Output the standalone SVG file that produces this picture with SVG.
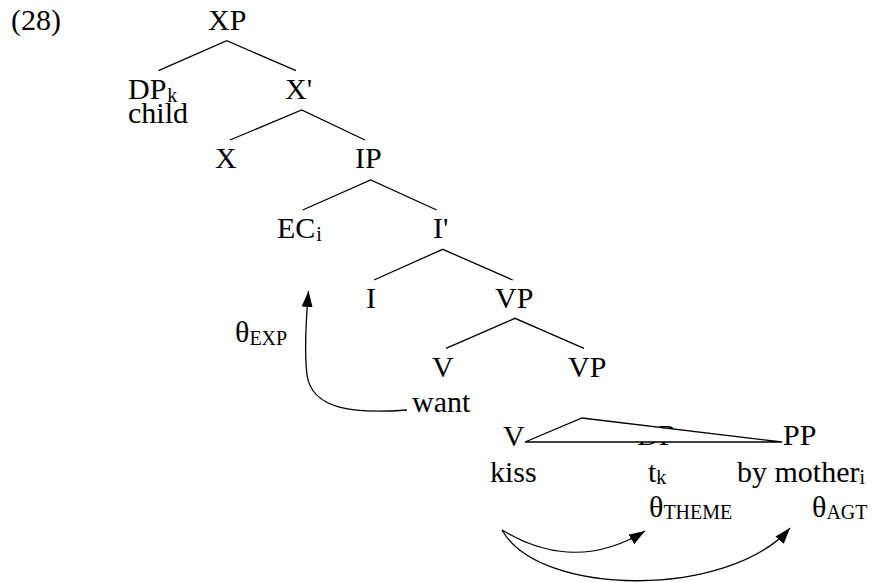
<svg xmlns="http://www.w3.org/2000/svg" width="874" height="583" viewBox="0 0 874 583" font-family="Liberation Serif, Times New Roman, Times, DejaVu Serif, serif">
<style>
text{font-family:'Liberation Serif','Times New Roman',Times,'DejaVu Serif',serif;font-size:30px;fill:#000}
.sub{font-size:20px}
.e{stroke:#000;stroke-width:1.3;fill:none}
.roof{stroke:#000;stroke-width:1.3;fill:#fff}
</style>
<defs>
<marker id="ah" markerUnits="userSpaceOnUse" markerWidth="16" markerHeight="11" refX="16" refY="5.5" orient="auto">
<path d="M0,0 L16,5.5 L0,11 z" fill="#000"/>
</marker>
</defs>
<rect width="874" height="583" fill="#fff"/>
<text id="label" x="11" y="30">(28)</text>
<g id="n-XP"><text x="208" y="30">XP</text></g>
<g id="n-DPk"><text x="128" y="99">DP<tspan class="sub" dx="1" dy="3">k</tspan></text><text x="128" y="123">child</text></g>
<g id="n-Xbar"><text x="285" y="99">X'</text></g>
<g id="n-X"><text x="215" y="168">X</text></g>
<g id="n-IP"><text x="355" y="168">IP</text></g>
<g id="n-ECi"><text x="277" y="238">EC<tspan class="sub" dx="1" dy="3">i</tspan></text></g>
<g id="n-Ibar"><text x="433" y="238">I'</text></g>
<g id="n-I"><text x="366" y="308">I</text></g>
<g id="n-VP1"><text x="495" y="308">VP</text></g>
<g id="n-V1"><text x="432" y="377">V</text><text x="412" y="412">want</text></g>
<g id="n-VP2"><text x="568" y="377">VP</text></g>
<g id="n-thetaEXP"><text x="235" y="342">θ<tspan class="sub" dy="3">EXP</tspan></text></g>
<g id="n-V2"><text x="503" y="446">V</text><text x="490" y="482">kiss</text></g>
<g id="n-DP"><text x="637" y="445">DP</text><text x="648" y="482">t<tspan class="sub" dy="2">k</tspan></text><text x="649" y="517">θ<tspan class="sub" dy="2">THEME</tspan></text></g>
<g id="n-PP"><text x="783" y="445">PP</text><text x="737" y="482">by mother<tspan class="sub" dy="2">i</tspan></text><text x="812" y="517">θ<tspan class="sub" dy="2">AGT</tspan></text></g>
<g id="connectors">
<path class="e" d="M158.5,70.7 L226.7,40.7 L296,70.7"/>
<path class="e" d="M230,140 L301.7,110 L365,140"/>
<path class="e" d="M302.7,210 L370.7,180 L436.7,210"/>
<path class="e" d="M374,280 L442.7,249.3 L512.7,280"/>
<path class="e" d="M446,348.3 L515,318.3 L584,348.3"/>
<path class="roof" d="M525,442 L582,418 L782,442 Z"/>
<path class="e" marker-end="url(#ah)" d="M407,410 C355,414 312,410 307,375 C304,350 306,320 308.5,291"/>
<path class="e" marker-end="url(#ah)" d="M502,530 C540,553 590,565 645,531"/>
<path class="e" marker-end="url(#ah)" d="M502,530 C540,598 730,598 790,528"/>
</g>
</svg>
